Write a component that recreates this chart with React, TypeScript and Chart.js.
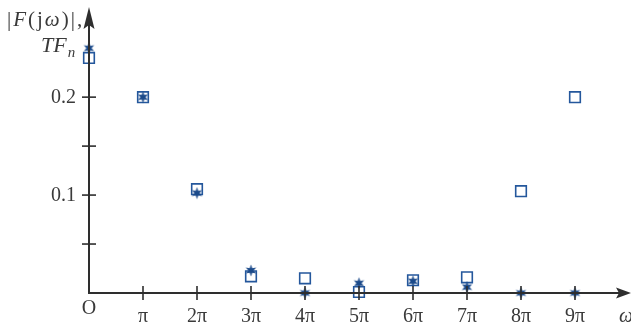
import React, { useEffect, useRef } from "react";
import { Chart, registerables } from "chart.js";

Chart.register(...registerables);

// x positions in multiples of pi
const harmonics = [0, 1, 2, 3, 4, 5, 6, 7, 8, 9];
const xTickLabels = ["O", "π", "2π", "3π", "4π", "5π", "6π", "7π", "8π", "9π"];
// |F(jω)| samples (stars)
const spectrumValues = [0.25, 0.2, 0.102, 0.023, 0.0, 0.01, 0.012, 0.006, 0.0, 0.0];
// T·F_n (squares)
const seriesValues = [0.24, 0.2, 0.106, 0.017, 0.015, 0.001, 0.013, 0.016, 0.104, 0.2];
const yTickValues = [0.1, 0.2];
const yMinorTicks = [0.05, 0.15];

const SERIF = '"Liberation Serif", "DejaVu Serif", serif';
const AXIS_COLOR = "#2e2e2e";
const TEXT_COLOR = "#3a3a3a";

function makeStar(color: string): HTMLCanvasElement {
  const c = document.createElement("canvas");
  c.width = 13;
  c.height = 13;
  const ctx = c.getContext("2d")!;
  ctx.fillStyle = color;
  ctx.beginPath();
  const cx = 6.5, cy = 6.5, ro = 6, ri = 2.6;
  for (let i = 0; i < 12; i++) {
    const a = -Math.PI / 2 + (i * Math.PI) / 6;
    const r = i % 2 === 0 ? ro : ri;
    const px = cx + r * Math.cos(a);
    const py = cy + r * Math.sin(a);
    if (i === 0) ctx.moveTo(px, py);
    else ctx.lineTo(px, py);
  }
  ctx.closePath();
  ctx.fill();
  return c;
}

const axesPlugin = {
  id: "mathAxes",
  afterDatasetsDraw(chart: any) {
    const { ctx } = chart;
    const xs = chart.scales.x;
    const ys = chart.scales.y;
    const x0 = xs.getPixelForValue(0);
    const y0 = ys.getPixelForValue(0);
    ctx.save();
    ctx.strokeStyle = AXIS_COLOR;
    ctx.fillStyle = AXIS_COLOR;
    ctx.lineWidth = 2;
    // x axis
    const xEnd = 631;
    ctx.beginPath();
    ctx.moveTo(x0, y0);
    ctx.lineTo(xEnd - 8, y0);
    ctx.stroke();
    ctx.beginPath();
    ctx.moveTo(xEnd, y0);
    ctx.lineTo(xEnd - 15, y0 - 5.5);
    ctx.lineTo(xEnd - 12, y0);
    ctx.lineTo(xEnd - 15, y0 + 5.5);
    ctx.closePath();
    ctx.fill();
    // y axis
    const yEnd = 7;
    ctx.beginPath();
    ctx.moveTo(x0, y0 + 1);
    ctx.lineTo(x0, yEnd + 8);
    ctx.stroke();
    ctx.beginPath();
    ctx.moveTo(x0, yEnd);
    ctx.lineTo(x0 - 5.5, yEnd + 22);
    ctx.lineTo(x0, yEnd + 18);
    ctx.lineTo(x0 + 5.5, yEnd + 22);
    ctx.closePath();
    ctx.fill();
    // x ticks
    ctx.lineWidth = 1.6;
    harmonics.forEach((h) => {
      if (h === 0) return;
      const px = xs.getPixelForValue(h);
      ctx.beginPath();
      ctx.moveTo(px, y0 - 7);
      ctx.lineTo(px, y0 + 7);
      ctx.stroke();
    });
    // y ticks
    [...yMinorTicks, ...yTickValues].forEach((v) => {
      const py = ys.getPixelForValue(v);
      ctx.beginPath();
      ctx.moveTo(x0 - 7, py);
      ctx.lineTo(x0 + 7, py);
      ctx.stroke();
    });
    // labels
    ctx.fillStyle = TEXT_COLOR;
    ctx.font = `20px ${SERIF}`;
    ctx.textBaseline = "middle";
    ctx.textAlign = "center";
    harmonics.forEach((h, i) => {
      const px = xs.getPixelForValue(h);
      if (i === 0) {
        ctx.fillText(xTickLabels[i], px, y0 + 16);
      } else {
        ctx.fillText(xTickLabels[i], px, y0 + 24);
      }
    });
    ctx.textAlign = "right";
    yTickValues.forEach((v) => {
      ctx.fillText(v.toFixed(1), x0 - 13, ys.getPixelForValue(v) + 1);
    });
    // axis titles
    ctx.textAlign = "left";
    ctx.font = `italic 20px ${SERIF}`;
    ctx.fillText("ω", 619, y0 + 24);
    // y title: |F(jω)|,
    let cx = 7;
    const ty = 20;
    const parts: [string, boolean][] = [
      ["|", false], ["F", true], ["(", false], ["j", false], ["ω", true], [")", false], ["|", false], [",", false],
    ];
    parts.forEach(([t, it]) => {
      ctx.font = `${it ? "italic " : ""}21px ${SERIF}`;
      ctx.fillText(t, cx, ty);
      cx += ctx.measureText(t).width + 2;
    });
    ctx.font = `italic 22px ${SERIF}`;
    ctx.fillText("TF", 41, 46);
    const w = ctx.measureText("TF").width;
    ctx.font = `italic 15px ${SERIF}`;
    ctx.fillText("n", 41 + w + 1, 53);
    ctx.restore();
  },
};

export default function App() {
  const ref = useRef<HTMLCanvasElement | null>(null);
  useEffect(() => {
    if (!ref.current) return;
    const starImg = makeStar("#1b4a8a");
    const chart = new Chart(ref.current, {
      type: "scatter",
      data: {
        datasets: [
          {
            label: "|F(jω)|",
            data: harmonics.map((h, i) => ({ x: h, y: spectrumValues[i] })),
            pointStyle: starImg as any,
            pointRadius: 6,
            clip: false as any,
          },
          {
            label: "TFn",
            data: harmonics.map((h, i) => ({ x: h, y: seriesValues[i] })),
            pointStyle: "rect",
            pointRadius: 7.5,
            borderColor: "#24579c",
            backgroundColor: "rgba(0,0,0,0)",
            borderWidth: 1.6,
            clip: false as any,
          },
        ],
      },
      options: {
        animation: false,
        responsive: false,
        events: [],
        layout: { autoPadding: false, padding: { left: 89, right: 2, top: 9, bottom: 32 } },
        plugins: { legend: { display: false }, tooltip: { enabled: false } },
        scales: {
          x: { type: "linear", min: 0, max: 10, display: false },
          y: { type: "linear", min: 0, max: 0.29, display: false },
        },
      },
      plugins: [axesPlugin],
    });
    return () => chart.destroy();
  }, []);
  return (
    <div style={{ position: "fixed", left: 0, top: 0, width: 631, height: 325, background: "#fff" }}>
      <canvas ref={ref} width={631} height={325} style={{ display: "block" }} />
    </div>
  );
}
